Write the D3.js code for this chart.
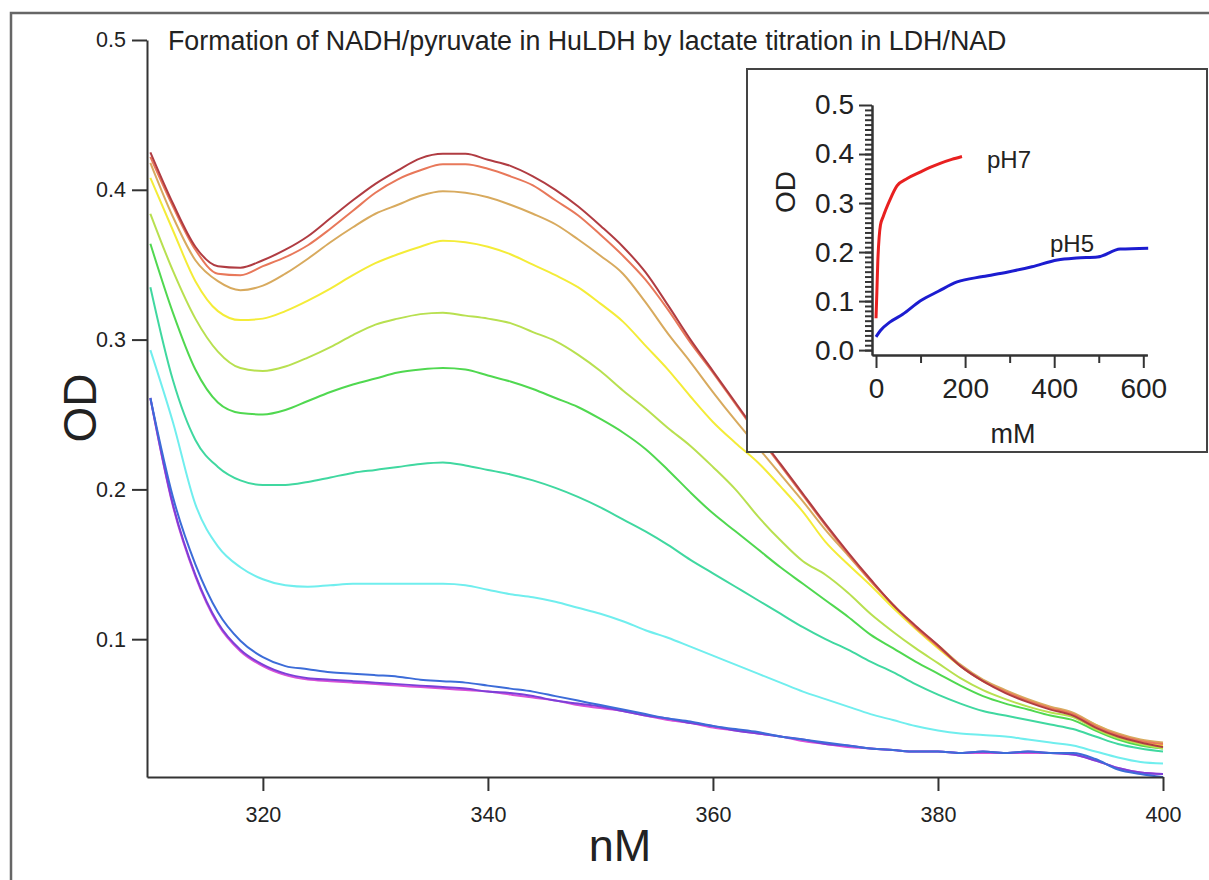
<!DOCTYPE html>
<meta charset="utf-8">
<style>
body { margin: 0; background: #fff; }
svg { font-family: "Liberation Sans", Arial, sans-serif; }
.axis path, .axis line { fill: none; stroke: #333; stroke-width: 2px; }
.axis text { fill: #222; font-family: "Liberation Sans", Arial, sans-serif; }
.spec { fill: none; stroke-width: 2px; }
</style>
<body>
<script src="https://d3js.org/d3.v7.min.js"></script>
<script>

// wavelength grid (nm) of the spectra
var wavelengths = [310, 312, 314, 316, 318, 320, 322, 324, 326, 328, 330, 332, 334, 336, 338, 340,
  342, 344, 346, 348, 350, 352, 354, 356, 358, 360, 362, 364, 366, 368, 370, 372, 374, 376, 378,
  380, 382, 384, 386, 388, 390, 392, 394, 396, 398, 400];

// OD spectra, highest lactate first
var odRed = [0.425, 0.391, 0.362, 0.349, 0.348, 0.353, 0.360, 0.369, 0.381, 0.393, 0.404, 0.413, 0.421, 0.424, 0.424, 0.420,
  0.416, 0.409, 0.400, 0.389, 0.376, 0.362, 0.345, 0.323, 0.300, 0.279, 0.258, 0.237, 0.217, 0.197, 0.177, 0.158, 0.140, 0.123, 0.109,
  0.096, 0.082, 0.072, 0.064, 0.058, 0.053, 0.049, 0.041, 0.035, 0.031, 0.028];
var odOrange = [0.422, 0.389, 0.360, 0.344, 0.343, 0.349, 0.355, 0.363, 0.374, 0.386, 0.398, 0.407, 0.413, 0.417, 0.417, 0.414,
  0.409, 0.403, 0.393, 0.383, 0.370, 0.356, 0.340, 0.320, 0.298, 0.278, 0.257, 0.236, 0.216, 0.196, 0.176, 0.157, 0.139, 0.123, 0.108,
  0.095, 0.082, 0.072, 0.065, 0.059, 0.054, 0.050, 0.042, 0.036, 0.032, 0.030];
var odTan = [0.418, 0.382, 0.353, 0.339, 0.333, 0.336, 0.344, 0.354, 0.365, 0.375, 0.384, 0.390, 0.396, 0.399, 0.398, 0.395,
  0.390, 0.384, 0.377, 0.367, 0.356, 0.344, 0.325, 0.304, 0.285, 0.265, 0.246, 0.228, 0.210, 0.192, 0.173, 0.156, 0.139, 0.123, 0.108,
  0.096, 0.083, 0.073, 0.066, 0.060, 0.055, 0.051, 0.043, 0.037, 0.033, 0.031];
var odYellow = [0.408, 0.373, 0.339, 0.319, 0.313, 0.314, 0.319, 0.326, 0.334, 0.343, 0.351, 0.357, 0.362, 0.366, 0.365, 0.362,
  0.357, 0.350, 0.343, 0.335, 0.324, 0.312, 0.296, 0.280, 0.262, 0.245, 0.231, 0.218, 0.202, 0.185, 0.165, 0.150, 0.136, 0.121, 0.107,
  0.094, 0.082, 0.072, 0.065, 0.059, 0.054, 0.050, 0.043, 0.036, 0.032, 0.029];
var odLime = [0.384, 0.346, 0.314, 0.292, 0.281, 0.279, 0.282, 0.288, 0.295, 0.303, 0.310, 0.314, 0.317, 0.318, 0.316, 0.314,
  0.311, 0.305, 0.299, 0.290, 0.279, 0.266, 0.254, 0.241, 0.229, 0.215, 0.200, 0.182, 0.166, 0.152, 0.143, 0.131, 0.117, 0.105, 0.094,
  0.084, 0.074, 0.066, 0.060, 0.055, 0.051, 0.048, 0.040, 0.034, 0.030, 0.027];
var odGreen = [0.364, 0.318, 0.280, 0.258, 0.251, 0.250, 0.253, 0.259, 0.265, 0.270, 0.274, 0.278, 0.280, 0.281, 0.280, 0.276,
  0.272, 0.267, 0.261, 0.255, 0.247, 0.238, 0.227, 0.213, 0.198, 0.184, 0.172, 0.160, 0.148, 0.137, 0.126, 0.115, 0.103, 0.094, 0.085,
  0.077, 0.069, 0.062, 0.057, 0.053, 0.049, 0.046, 0.039, 0.033, 0.029, 0.027];
var odTeal = [0.335, 0.273, 0.233, 0.215, 0.206, 0.203, 0.203, 0.205, 0.208, 0.211, 0.213, 0.215, 0.217, 0.218, 0.216, 0.213,
  0.210, 0.206, 0.201, 0.195, 0.188, 0.180, 0.172, 0.163, 0.153, 0.144, 0.135, 0.126, 0.117, 0.108, 0.100, 0.093, 0.085, 0.078, 0.070,
  0.063, 0.057, 0.052, 0.049, 0.046, 0.043, 0.040, 0.035, 0.030, 0.027, 0.025];
var odCyan = [0.293, 0.245, 0.190, 0.162, 0.148, 0.140, 0.136, 0.135, 0.136, 0.137, 0.137, 0.137, 0.137, 0.137, 0.136, 0.133,
  0.130, 0.128, 0.125, 0.121, 0.117, 0.112, 0.106, 0.101, 0.095, 0.089, 0.083, 0.077, 0.071, 0.065, 0.060, 0.055, 0.050, 0.046, 0.042,
  0.039, 0.037, 0.036, 0.035, 0.033, 0.031, 0.029, 0.025, 0.021, 0.018, 0.017];
var odBlue = [0.261, 0.195, 0.150, 0.118, 0.099, 0.088, 0.082, 0.080, 0.078, 0.077, 0.076, 0.075, 0.073, 0.072, 0.071, 0.069,
  0.067, 0.065, 0.062, 0.059, 0.056, 0.053, 0.050, 0.047, 0.045, 0.042, 0.040, 0.038, 0.035, 0.033, 0.031, 0.029, 0.027, 0.026, 0.025,
  0.025, 0.024, 0.025, 0.024, 0.025, 0.024, 0.024, 0.020, 0.013, 0.010, 0.008];
var odPurple = [0.261, 0.190, 0.143, 0.111, 0.093, 0.083, 0.077, 0.074, 0.073, 0.072, 0.071, 0.070, 0.069, 0.068, 0.067, 0.065,
  0.064, 0.062, 0.059, 0.057, 0.055, 0.052, 0.049, 0.047, 0.044, 0.042, 0.039, 0.037, 0.035, 0.033, 0.030, 0.029, 0.027, 0.026, 0.025,
  0.025, 0.024, 0.025, 0.024, 0.025, 0.024, 0.023, 0.019, 0.014, 0.011, 0.010];
var odMagenta = [0.261, 0.189, 0.142, 0.110, 0.092, 0.082, 0.076, 0.073, 0.072, 0.071, 0.070, 0.069, 0.068, 0.067, 0.066, 0.065,
  0.063, 0.061, 0.059, 0.056, 0.054, 0.052, 0.049, 0.046, 0.044, 0.041, 0.039, 0.037, 0.035, 0.032, 0.030, 0.028, 0.027, 0.026, 0.025,
  0.025, 0.024, 0.024, 0.024, 0.024, 0.024, 0.023, 0.019, 0.014, 0.011, 0.010];

var spectra = [odRed, odOrange, odTan, odYellow, odLime, odGreen, odTeal, odCyan, odBlue, odPurple, odMagenta];
var specColors = ["#b03c42", "#e8785a", "#d8aa5e", "#f4ec38", "#b8e050", "#50d850", "#40d8a0", "#70eeee", "#3c6cd8", "#7c40d8", "#d850d8"];

var yTicks = [0.1, 0.2, 0.3, 0.4, 0.5];
var xTicks = [320, 340, 360, 380, 400];

// inset: OD vs lactate (mM)
var ph7Conc = [0, 2, 4, 7, 10, 16, 31, 47, 70, 99, 120, 144, 170, 193];
var ph7OD = [0.065, 0.12, 0.18, 0.23, 0.255, 0.272, 0.306, 0.335, 0.350, 0.363, 0.372, 0.381, 0.389, 0.395];
var ph5Conc = [0, 10, 31, 60, 99, 140, 182, 240, 294, 350, 407, 450, 497, 548, 611];
var ph5OD = [0.027, 0.040, 0.057, 0.073, 0.100, 0.120, 0.139, 0.150, 0.159, 0.170, 0.184, 0.188, 0.190, 0.206, 0.208];

var insetYTicks = [0, 0.1, 0.2, 0.3, 0.4, 0.5];
var insetXTicks = [0, 200, 400, 600];
var insetXMinor = [100, 300, 500];

var W = 1209, H = 880;

var svg = d3.select("body").append("svg")
    .attr("width", W)
    .attr("height", H);

// outer frame
svg.append("rect")
    .attr("x", 11).attr("y", 13)
    .attr("width", W + 20).attr("height", H + 20)
    .attr("fill", "none")
    .attr("stroke", "#666")
    .attr("stroke-width", 2.5);

var x = d3.scaleLinear().domain([309.7, 400]).range([147, 1163]);
var y = d3.scaleLinear().domain([0.008, 0.5]).range([777, 40]);

var line = d3.line()
    .x(function(d, i) { return x(wavelengths[i]); })
    .y(function(d) { return y(d); })
    .curve(d3.curveMonotoneX);

svg.selectAll(".spec")
    .data(spectra.slice().reverse())
  .enter().append("path")
    .attr("class", "spec")
    .attr("stroke", function(d, i) { return specColors[spectra.length - 1 - i]; })
    .attr("d", line);

svg.append("g")
    .attr("class", "axis")
    .attr("transform", "translate(147,0)")
    .call(d3.axisLeft(y).tickValues(yTicks).tickSize(15).tickSizeOuter(0).tickPadding(6).tickFormat(d3.format(".1f")))
    .attr("font-size", 21.5);

svg.append("g")
    .attr("class", "axis")
    .attr("transform", "translate(0,777)")
    .call(d3.axisBottom(x).tickValues(xTicks).tickSize(14).tickSizeOuter(0).tickPadding(16))
    .attr("font-size", 21.5);

svg.append("text")
    .attr("x", 168).attr("y", 50)
    .attr("font-size", 26.8)
    .attr("fill", "#222")
    .text("Formation of NADH/pyruvate in HuLDH by lactate titration in LDH/NAD");

svg.append("text")
    .attr("x", 620).attr("y", 861)
    .attr("text-anchor", "middle")
    .attr("font-size", 45)
    .attr("fill", "#222")
    .text("nM");

svg.append("text")
    .attr("transform", "translate(96,408) rotate(-90)")
    .attr("text-anchor", "middle")
    .attr("font-size", 46)
    .attr("fill", "#222")
    .text("OD");

// inset
var inset = svg.append("g");

inset.append("rect")
    .attr("x", 747).attr("y", 69)
    .attr("width", 460).attr("height", 383)
    .attr("fill", "#fff")
    .attr("stroke", "#444")
    .attr("stroke-width", 2);

var ix = d3.scaleLinear().domain([-9, 609]).range([872, 1147.3]);
var iy = d3.scaleLinear().domain([-0.01, 0.5]).range([355, 105]);

inset.append("g")
    .attr("class", "axis")
    .attr("transform", "translate(872,0)")
    .call(d3.axisLeft(iy).tickValues(d3.range(0, 50).map(function(i) { return i / 100; }))
      .tickSize(7).tickSizeOuter(0).tickFormat(""));

inset.append("g")
    .attr("class", "axis")
    .attr("transform", "translate(872,0)")
    .call(d3.axisLeft(iy).tickValues(insetYTicks).tickSize(13).tickSizeOuter(0).tickPadding(5).tickFormat(d3.format(".1f")))
    .attr("font-size", 28);

inset.append("g")
    .attr("class", "axis")
    .attr("transform", "translate(0,355)")
    .call(d3.axisBottom(ix).tickValues(insetXMinor).tickSize(8).tickSizeOuter(0).tickFormat(""));

inset.append("g")
    .attr("class", "axis")
    .attr("transform", "translate(0,355)")
    .call(d3.axisBottom(ix).tickValues(insetXTicks).tickSize(13).tickSizeOuter(0).tickPadding(10))
    .attr("font-size", 28);

var inLine = d3.line()
    .x(function(d) { return ix(d[0]); })
    .y(function(d) { return iy(d[1]); })
    .curve(d3.curveMonotoneX);

inset.append("path")
    .datum(d3.zip(ph7Conc, ph7OD))
    .attr("fill", "none")
    .attr("stroke", "#e82020")
    .attr("stroke-width", 3)
    .attr("d", inLine);

inset.append("path")
    .datum(d3.zip(ph5Conc, ph5OD))
    .attr("fill", "none")
    .attr("stroke", "#1c1cd0")
    .attr("stroke-width", 3)
    .attr("d", inLine);

inset.append("text")
    .attr("x", 987).attr("y", 168)
    .attr("font-size", 24)
    .attr("fill", "#222")
    .text("pH7");

inset.append("text")
    .attr("x", 1050).attr("y", 252)
    .attr("font-size", 24)
    .attr("fill", "#222")
    .text("pH5");

inset.append("text")
    .attr("x", 1013).attr("y", 443)
    .attr("text-anchor", "middle")
    .attr("font-size", 27)
    .attr("fill", "#222")
    .text("mM");

inset.append("text")
    .attr("transform", "translate(795,192) rotate(-90)")
    .attr("text-anchor", "middle")
    .attr("font-size", 28)
    .attr("fill", "#222")
    .text("OD");

</script>
